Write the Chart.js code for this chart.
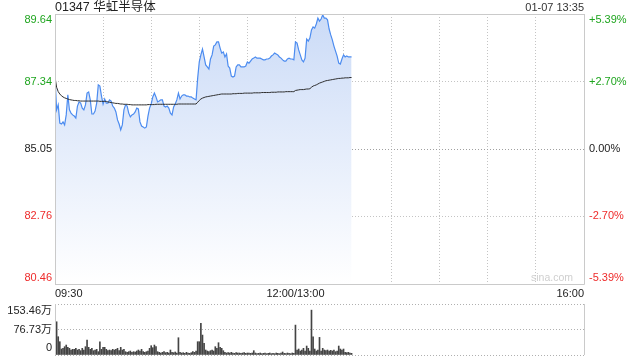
<!DOCTYPE html>
<html>
<head>
<meta charset="utf-8">
<script src="https://cdn.jsdelivr.net/npm/chart.js@4.4.1/dist/chart.umd.min.js"></script>
<style>
  body { margin:0; background:#fff; }
  #wrap { position:relative; width:640px; height:360px; }
  canvas { position:absolute; left:0; top:0; }
</style>
</head>
<body>
<div id="wrap">
  <canvas id="main" width="640" height="360"></canvas>
  <canvas id="vol" width="640" height="360"></canvas>
</div>
<script>
// 数据
var title = '01347 华虹半导体';
var stamp = '01-07 13:35';
var prevClose = 85.05;
var priceTicks = [80.46, 82.76, 85.05, 87.34, 89.64];
var pctTicks = ['-5.39%', '-2.70%', '0.00%', '+2.70%', '+5.39%'];
var timeTicks = [0, 150, 330];
var timeLabels = ['09:30', '12:00/13:00', '16:00'];
var volTicks = [0, 76.73, 153.46];
var volLabels = ['0', '76.73万', '153.46万'];

// one value per minute from 09:30 (lunch break skipped)
var prices = [
  87.50,86.38,86.55,85.93,85.90,85.97,85.87,86.21,86.89,86.38,
  86.27,86.21,86.17,86.10,86.51,86.65,86.61,86.44,86.38,86.55,
  86.95,86.99,86.72,86.24,86.24,86.34,86.61,87.23,87.19,86.85,
  86.58,86.75,86.61,86.61,86.72,86.68,86.51,86.44,86.31,86.04,
  85.90,85.70,85.87,86.38,86.55,86.51,86.27,86.14,86.21,86.24,
  86.31,86.44,86.41,85.97,85.83,85.80,85.76,85.80,86.17,86.44,
  86.58,86.82,86.95,86.82,86.65,86.68,86.72,86.72,86.51,86.48,
  86.51,86.44,86.27,86.21,86.48,86.58,86.72,86.95,86.75,86.85,
  86.89,86.89,86.85,86.85,86.82,86.82,86.78,86.75,86.72,87.46,
  88.01,88.25,88.45,88.18,87.91,87.84,87.77,88.11,88.25,88.55,
  88.59,88.69,88.69,88.48,88.31,88.35,88.18,88.28,87.87,87.80,
  87.53,87.50,87.53,87.84,87.91,87.91,87.84,87.84,87.84,87.87,
  88.01,87.97,88.04,88.11,88.14,88.18,88.14,88.14,88.14,88.11,
  88.08,88.08,88.11,88.11,88.14,88.21,88.25,88.31,88.28,88.25,
  88.18,88.14,88.08,88.04,88.04,88.11,88.14,88.11,88.11,88.08,
  88.69,88.65,88.42,88.25,88.08,88.01,88.14,88.79,88.72,88.82,
  89.10,89.20,89.16,89.30,89.50,89.40,89.47,89.61,89.50,89.50,
  89.44,89.13,88.93,88.76,88.55,88.38,88.21,87.97,87.94,88.11,
  88.25,88.18,88.21,88.18,88.18,88.18
];
var avgPrices = [
  87.50,87.15,87.00,86.92,86.86,86.82,86.79,86.77,86.75,86.73,
  86.72,86.71,86.70,86.70,86.69,86.69,86.68,86.68,86.68,86.68,
  86.68,86.68,86.68,86.68,86.68,86.68,86.68,86.68,86.67,86.67,
  86.67,86.67,86.67,86.65,86.64,86.63,86.62,86.61,86.60,86.60,
  86.59,86.58,86.58,86.57,86.57,86.57,86.56,86.56,86.55,86.55,
  86.55,86.55,86.55,86.55,86.55,86.55,86.55,86.55,86.56,86.56,
  86.56,86.56,86.56,86.57,86.57,86.57,86.57,86.57,86.57,86.57,
  86.57,86.57,86.57,86.57,86.57,86.57,86.57,86.58,86.58,86.58,
  86.58,86.58,86.58,86.58,86.58,86.58,86.58,86.58,86.58,86.64,
  86.70,86.75,86.78,86.80,86.82,86.83,86.84,86.85,86.86,86.87,
  86.88,86.89,86.90,86.91,86.92,86.92,86.92,86.92,86.92,86.92,
  86.92,86.93,86.93,86.93,86.94,86.94,86.94,86.94,86.95,86.95,
  86.95,86.95,86.95,86.95,86.96,86.96,86.96,86.96,86.96,86.97,
  86.97,86.97,86.97,86.97,86.97,86.98,86.98,86.98,86.98,86.99,
  86.99,86.99,86.99,86.99,87.00,87.00,87.00,87.00,87.00,87.00,
  87.04,87.05,87.06,87.07,87.07,87.07,87.08,87.09,87.09,87.10,
  87.15,87.19,87.21,87.23,87.26,87.29,87.31,87.33,87.35,87.37,
  87.38,87.39,87.40,87.41,87.42,87.43,87.44,87.45,87.45,87.46,
  87.46,87.47,87.47,87.47,87.48,87.48
];
// 成交量 (万)
var volumes = [
  153.46,100,55,40,18,20,25,30,23,20,
  15,17,17,20,15,17,13,20,15,25,
  45,23,17,20,13,15,17,10,40,17,
  23,23,17,13,15,13,17,15,17,20,
  13,23,15,17,10,8,10,12,8,10,
  9,12,15,12,17,10,8,10,12,20,
  28,22,30,25,10,8,6,8,10,7,
  8,6,15,8,7,9,6,52,8,6,
  7,5,8,6,5,7,10,8,12,40,
  40,95,60,35,15,12,10,13,15,12,
  25,20,37,23,20,13,8,6,7,6,
  8,6,5,7,6,6,5,6,7,5,
  6,6,5,6,13,6,4,5,6,4,
  5,6,4,5,6,4,5,4,6,5,
  4,6,9,5,4,6,5,4,6,5,
  90,15,18,12,15,20,12,27,20,12,
  135,55,18,12,15,53,12,20,15,13,
  15,12,14,12,15,10,12,27,18,15,
  18,8,7,8,6,5
];

var FONT = '"Liberation Sans", Arial, "Noto Sans CJK SC", sans-serif';
var GREEN = '#1fa51f';
var RED = '#ee2b2b';

function toPoints(arr) {
  return arr.map(function (v, i) { return { x: i, y: v }; });
}

function labelColor(v) {
  if (v > prevClose + 0.001) return GREEN;
  if (v < prevClose - 0.001) return RED;
  return '#222';
}

var mainText = {
  id: 'mainText',
  afterDraw: function (chart) {
    var c = chart.ctx, a = chart.chartArea;
    var ys = chart.scales.y, xs = chart.scales.x;
    c.save();
    // frame
    c.strokeStyle = '#cacaca';
    c.lineWidth = 1;
    c.beginPath();
    c.moveTo(a.left + 0.5, a.top + 0.5); c.lineTo(a.right + 0.5, a.top + 0.5);
    c.lineTo(a.right + 0.5, a.bottom + 0.5); c.lineTo(a.left + 0.5, a.bottom + 0.5);
    c.closePath();
    c.stroke();

    c.textBaseline = 'middle';
    c.fillStyle = '#222';
    c.font = '12.5px ' + FONT;
    c.textAlign = 'left';
    c.fillText(title, a.left, 8);
    c.font = '11px ' + FONT;
    c.fillStyle = '#333';
    c.textAlign = 'right';
    c.fillText(stamp, a.right, 8);

    priceTicks.forEach(function (v, i) {
      var y = ys.getPixelForValue(v);
      y = Math.min(Math.max(y, a.top + 6), a.bottom - 6);
      c.fillStyle = labelColor(v);
      c.textAlign = 'right';
      c.fillText(v.toFixed(2), a.left - 3, y);
      c.textAlign = 'left';
      c.fillText(pctTicks[i], a.right + 5, y);
    });

    c.fillStyle = '#222';
    timeTicks.forEach(function (t, i) {
      var x = xs.getPixelForValue(t);
      c.textAlign = i == 0 ? 'left' : (i == timeTicks.length - 1 ? 'right' : 'center');
      c.fillText(timeLabels[i], x, a.bottom + 10);
    });

    c.font = '10.5px ' + FONT;
    c.fillStyle = '#cfcfcf';
    c.textAlign = 'right';
    c.fillText('sina.com', a.right - 11, a.bottom - 6);
    c.restore();
  }
};

var volText = {
  id: 'volText',
  afterDraw: function (chart) {
    var c = chart.ctx, a = chart.chartArea, ys = chart.scales.y;
    c.save();
    c.strokeStyle = '#cacaca';
    c.lineWidth = 1;
    c.beginPath();
    c.moveTo(a.left + 0.5, a.top); c.lineTo(a.left + 0.5, a.bottom);
    c.moveTo(a.right + 0.5, a.top); c.lineTo(a.right + 0.5, a.bottom);
    c.stroke();
    c.font = '11px ' + FONT;
    c.fillStyle = '#222';
    c.textAlign = 'right';
    c.textBaseline = 'middle';
    volTicks.forEach(function (v, i) {
      var y = ys.getPixelForValue(v);
      y = Math.min(Math.max(y, a.top + 7), a.bottom - 7);
      c.fillText(volLabels[i], a.left - 3, y);
    });
    c.restore();
  }
};

var mainChart = new Chart(document.getElementById('main'), {
  type: 'line',
  data: {
    datasets: [{
      data: toPoints(avgPrices),
      borderColor: '#2e2e2e',
      borderWidth: 1,
      pointRadius: 0,
      fill: false
    }, {
      data: toPoints(prices),
      borderColor: '#4c8cf0',
      borderWidth: 1.2,
      pointRadius: 0,
      tension: 0,
      fill: 'start',
      backgroundColor: function (ctx) {
        var a = ctx.chart.chartArea;
        if (!a) return 'rgba(210,225,248,0.8)';
        var g = ctx.chart.ctx.createLinearGradient(0, a.top, 0, a.bottom);
        g.addColorStop(0, 'rgb(203,219,247)');
        g.addColorStop(1, 'rgb(255,255,255)');
        return g;
      }
    }]
  },
  options: {
    responsive: false,
    animation: false,
    layout: { padding: { left: 55, right: 56, top: 14, bottom: 76 } },
    plugins: { legend: { display: false }, tooltip: { enabled: false } },
    scales: {
      x: {
        type: 'linear', min: 0, max: 330,
        ticks: { display: false, stepSize: 30 },
        grid: { color: '#c4c4c4', drawTicks: false },
        border: { display: false, dash: [1, 2] },
        afterFit: function (s) { s.height = 0; }
      },
      y: {
        min: priceTicks[0], max: priceTicks[priceTicks.length - 1],
        afterBuildTicks: function (s) { s.ticks = priceTicks.map(function (v) { return { value: v }; }); },
        ticks: { display: false },
        grid: {
          drawTicks: false,
          color: function (ctx) { return ctx.tick && ctx.tick.value == prevClose ? '#a0a0a0' : '#c4c4c4'; }
        },
        border: { display: false, dash: [1, 2] },
        afterFit: function (s) { s.width = 0; }
      }
    }
  },
  plugins: [mainText]
});

var volChart = new Chart(document.getElementById('vol'), {
  type: 'bar',
  data: {
    datasets: [{
      data: toPoints(volumes),
      backgroundColor: '#444',
      barThickness: 1,
      borderWidth: 0
    }]
  },
  options: {
    responsive: false,
    animation: false,
    layout: { padding: { left: 55, right: 56, top: 304, bottom: 5 } },
    plugins: { legend: { display: false }, tooltip: { enabled: false } },
    scales: {
      x: {
        type: 'linear', min: 0, max: 330, offset: false,
        ticks: { display: false },
        grid: { display: false },
        border: { display: false },
        afterFit: function (s) { s.height = 0; }
      },
      y: {
        min: 0, max: volTicks[volTicks.length - 1],
        afterBuildTicks: function (s) { s.ticks = volTicks.map(function (v) { return { value: v }; }); },
        ticks: { display: false },
        grid: { color: '#b0b0b0', drawTicks: false },
        border: { display: false, dash: [1, 2] },
        afterFit: function (s) { s.width = 0; }
      }
    }
  },
  plugins: [volText]
});
</script>
</body>
</html>
